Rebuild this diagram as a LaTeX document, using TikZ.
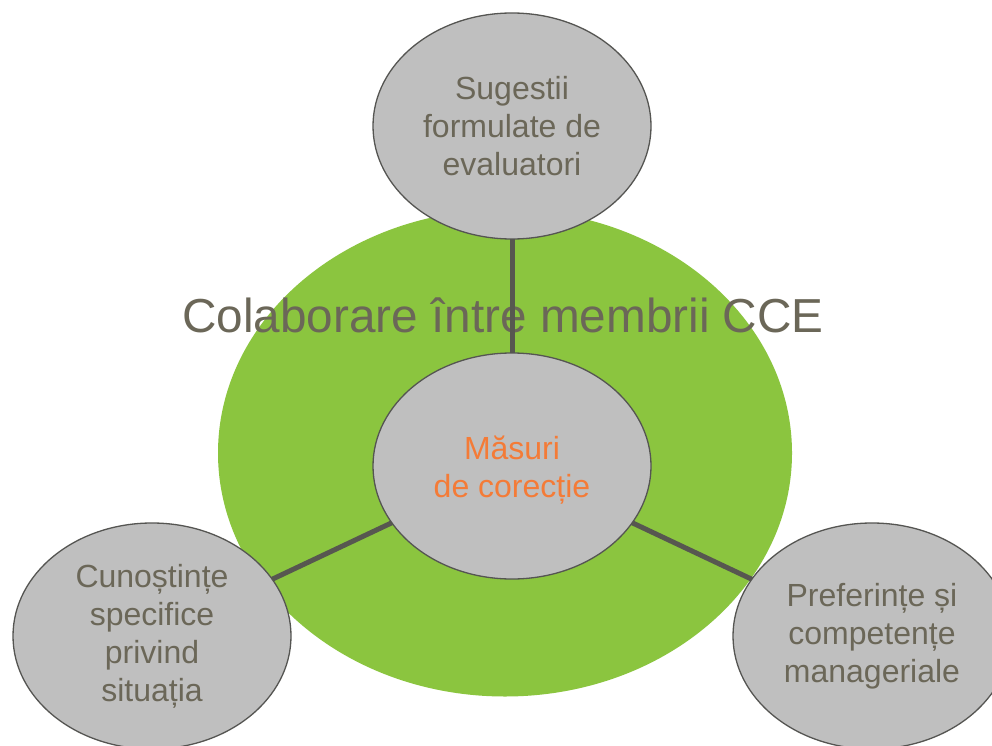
\documentclass[tikz,border=0pt]{standalone}
\usepackage{fontspec}
\setmainfont{Liberation Sans}
\usetikzlibrary{shapes.geometric}
\definecolor{cgreen}{HTML}{8BC53F}
\definecolor{cgray}{HTML}{BFBFBF}
\definecolor{cedge}{HTML}{555552}
\definecolor{ctext}{HTML}{6B6758}
\definecolor{corange}{HTML}{F47B37}
\definecolor{cline}{HTML}{575750}
\tikzset{
  bubble/.style={ellipse, draw=cedge, line width=1.3pt, fill=cgray,
    minimum width=278pt, minimum height=226pt, inner sep=0pt,
    align=center, text=ctext, font=\fontsize{32}{38}\selectfont},
  link/.style={draw=cline, line width=5pt},
}
\begin{document}
\begin{tikzpicture}[x=1pt,y=-1pt]
\useasboundingbox (0,0) rectangle (992,746);
\fill[white] (0,0) rectangle (992,746);
\node[ellipse, fill=cgreen, minimum width=574pt, minimum height=487pt, inner sep=0pt] (ring) at (505,453) {};
\node[text=ctext, font=\fontsize{47.7}{56}\selectfont, anchor=base] (title) at (503,332) {Colaborare între membrii CCE};
\coordinate (cc) at (512,466);
\coordinate (tc) at (512,126);
\coordinate (lc) at (152,636);
\coordinate (rc) at (872,636);
\draw[link] (tc) -- (cc);
\draw[link] (lc) -- (cc);
\draw[link] (rc) -- (cc);
\node[bubble] (top) at (tc) {Sugestii\\formulate de\\evaluatori};
\node[bubble] (left) at (lc) {Cunoștințe\\specifice\\privind\\situația};
\node[bubble] (right) at (rc) {Preferințe și\\competențe\\manageriale};
\node[bubble, label={[text=corange, align=center, font=\fontsize{32}{38}\selectfont, yshift=-4pt]center:Măsuri\\de corecție}] (center) at (cc) {};
\end{tikzpicture}
\end{document}
